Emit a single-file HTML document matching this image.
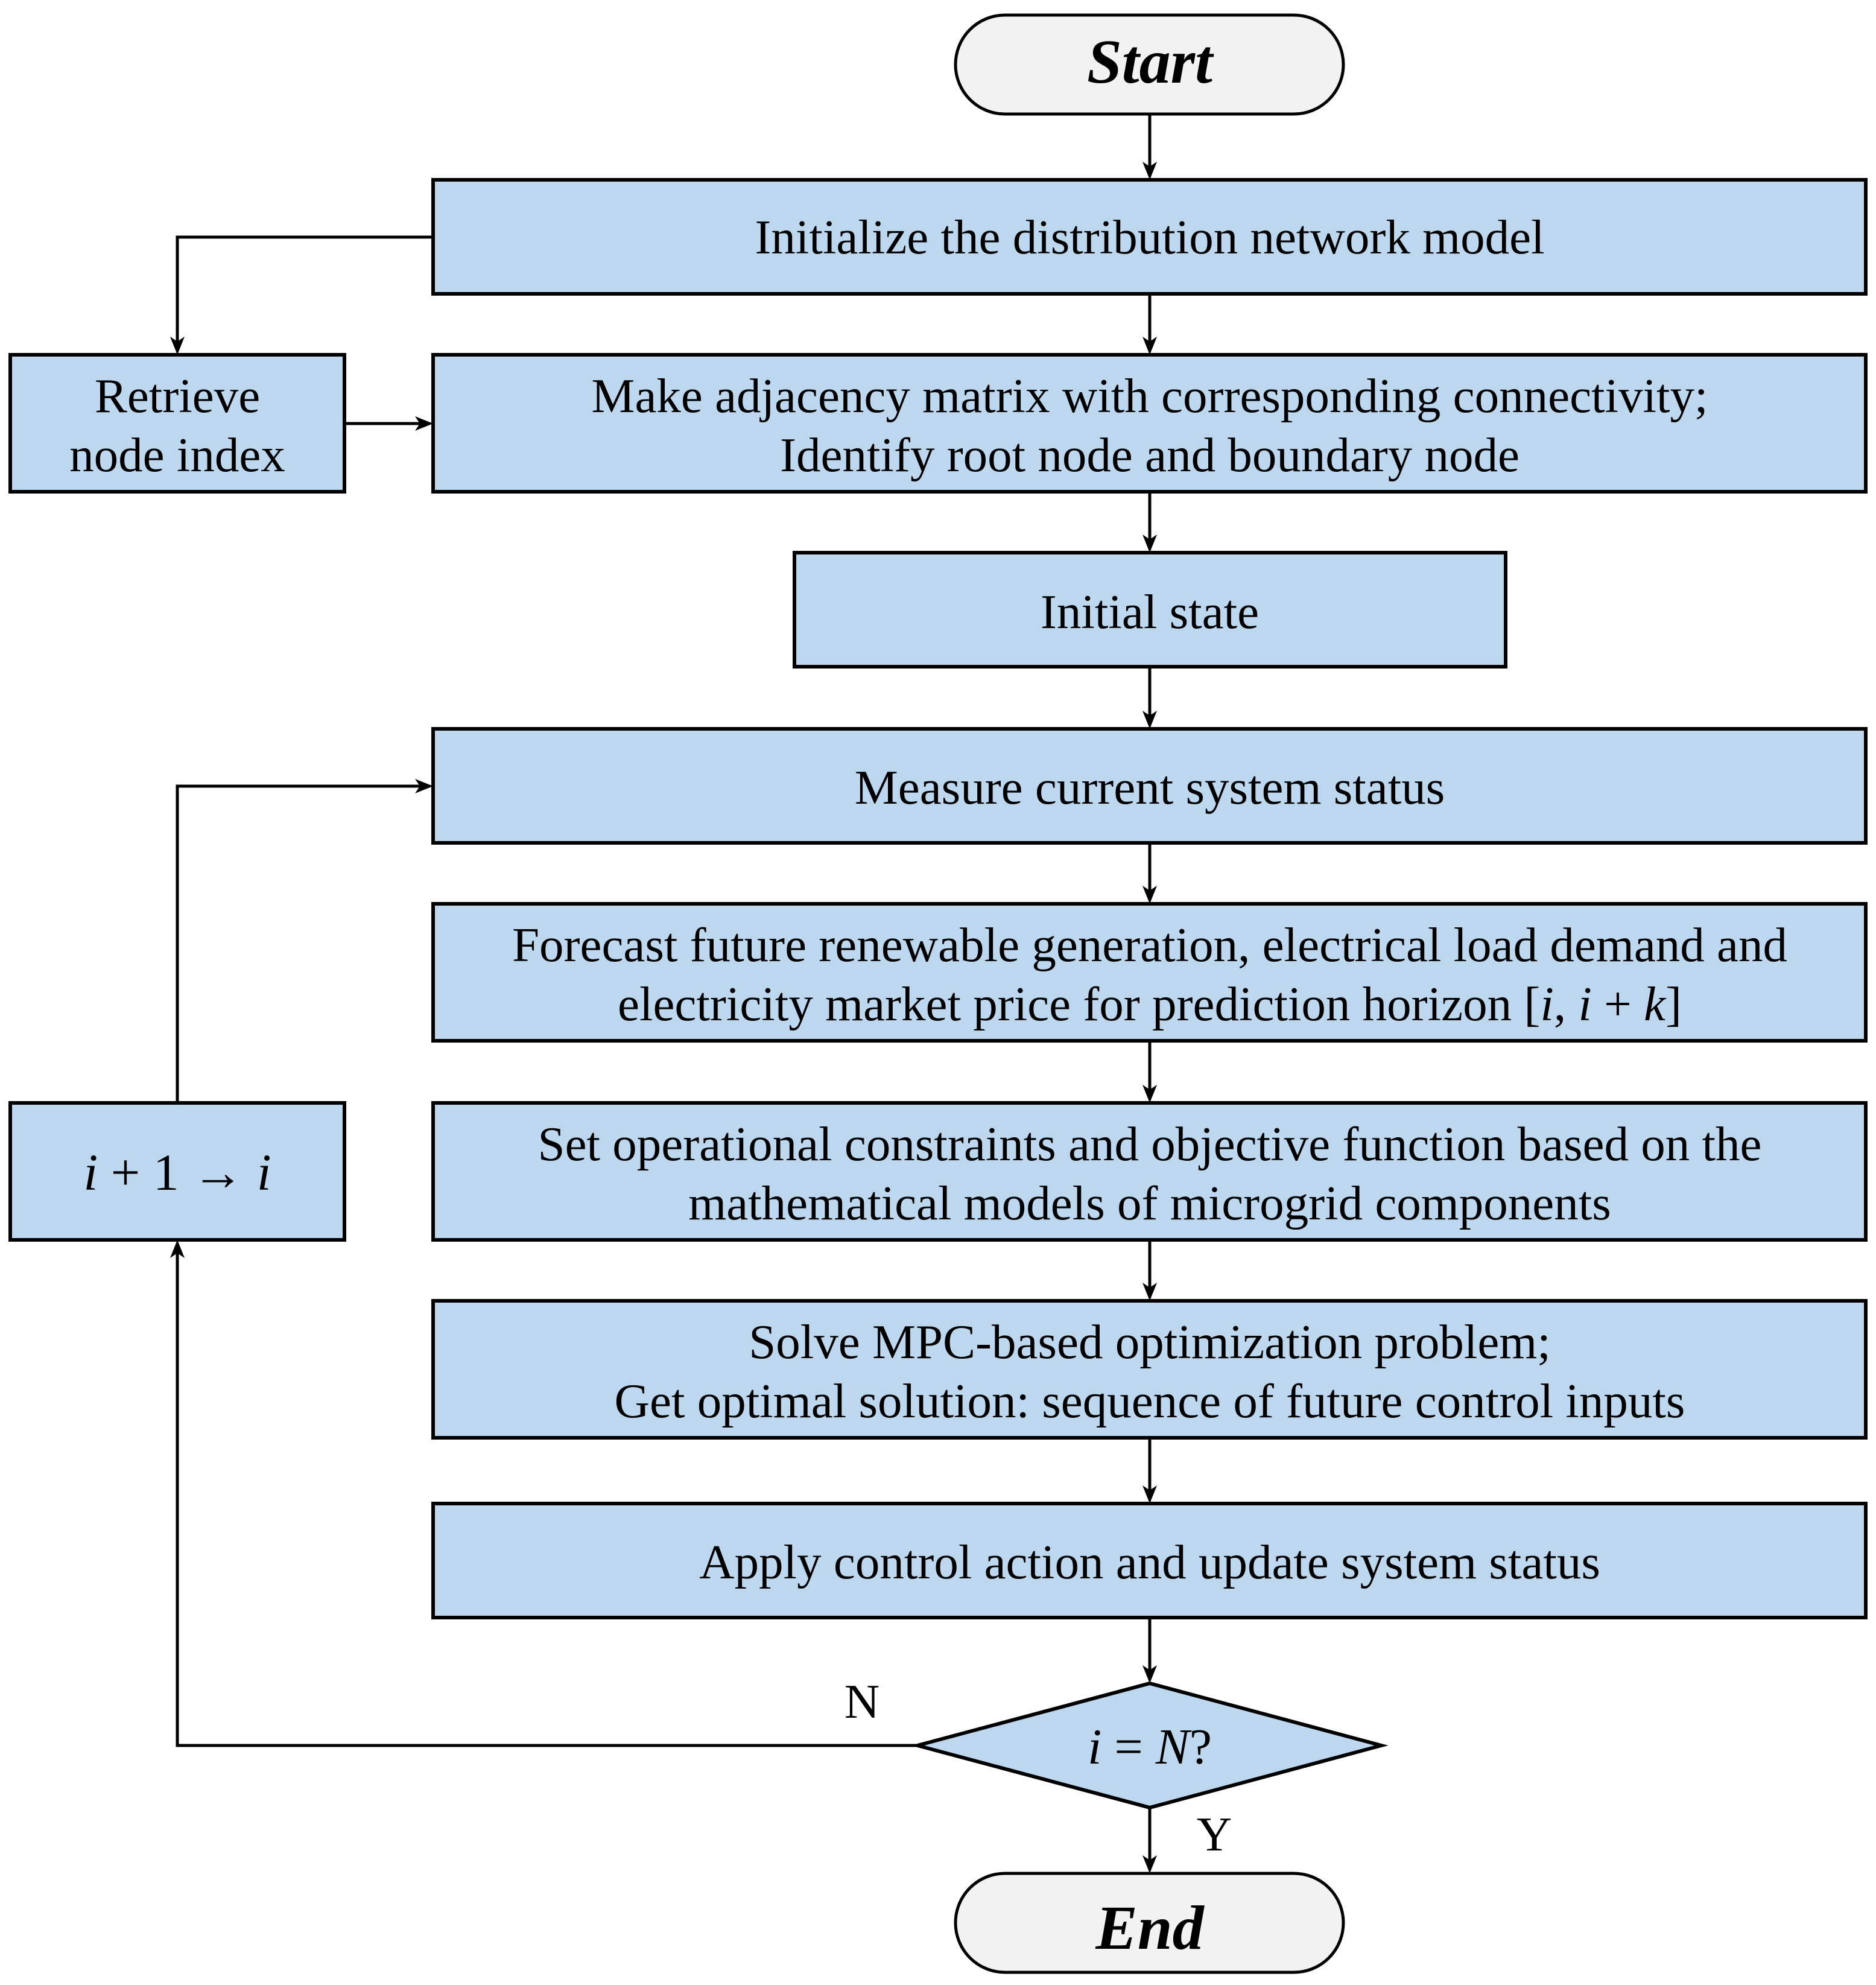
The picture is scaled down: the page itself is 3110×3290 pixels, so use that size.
<!DOCTYPE html>
<html><head><meta charset="utf-8"><style>html,body{margin:0;padding:0;background:#fff}</style></head>
<body>
<svg width="3110" height="3285" viewBox="0 0 3110 3285" xmlns="http://www.w3.org/2000/svg" font-family="Liberation Serif, serif">
<g stroke="#000" stroke-width="5" fill="none">
<line x1="1906" y1="189" x2="1906" y2="280"/>
<line x1="1906" y1="487" x2="1906" y2="570"/>
<line x1="1906" y1="815" x2="1906" y2="898"/>
<line x1="1906" y1="1105" x2="1906" y2="1190"/>
<line x1="1906" y1="1397" x2="1906" y2="1480"/>
<line x1="1906" y1="1725" x2="1906" y2="1810"/>
<line x1="1906" y1="2055" x2="1906" y2="2138"/>
<line x1="1906" y1="2383" x2="1906" y2="2474"/>
<line x1="1906" y1="2681" x2="1906" y2="2772"/>
<line x1="1906" y1="2996" x2="1906" y2="3087"/>
<polyline points="718,393 294,393 294,570"/>
<line x1="571" y1="702" x2="700" y2="702"/>
<polyline points="1521,2893 294,2893 294,2073"/>
<polyline points="294,1828 294,1303 700,1303"/>
</g>
<g fill="#000">
<polygon points="1906,298 1894,268 1906,276 1918,268"/>
<polygon points="1906,588 1894,558 1906,566 1918,558"/>
<polygon points="1906,916 1894,886 1906,894 1918,886"/>
<polygon points="1906,1208 1894,1178 1906,1186 1918,1178"/>
<polygon points="1906,1498 1894,1468 1906,1476 1918,1468"/>
<polygon points="1906,1828 1894,1798 1906,1806 1918,1798"/>
<polygon points="1906,2156 1894,2126 1906,2134 1918,2126"/>
<polygon points="1906,2492 1894,2462 1906,2470 1918,2462"/>
<polygon points="1906,2790 1894,2760 1906,2768 1918,2760"/>
<polygon points="1906,3105 1894,3075 1906,3083 1918,3075"/>
<polygon points="294,588 282,558 294,566 306,558"/>
<polygon points="718,702 688,690 696,702 688,714"/>
<polygon points="718,1303 688,1291 696,1303 688,1315"/>
<polygon points="294,2055 282,2085 294,2077 306,2085"/>
</g>
<g stroke="#000" stroke-width="6" fill="#BDD7EE">
<rect x="718" y="298" width="2375" height="189"/>
<rect x="17" y="588" width="554" height="227"/>
<rect x="718" y="588" width="2375" height="227"/>
<rect x="1317" y="916" width="1179" height="189"/>
<rect x="718" y="1208" width="2375" height="189"/>
<rect x="718" y="1498" width="2375" height="227"/>
<rect x="718" y="1828" width="2375" height="227"/>
<rect x="718" y="2156" width="2375" height="227"/>
<rect x="718" y="2492" width="2375" height="189"/>
<rect x="17" y="1828" width="554" height="227"/>
<polygon points="1906,2790 2290,2893 1906,2996 1521,2893"/>
</g>
<g stroke="#000" stroke-width="5" fill="#F2F2F2">
<rect x="1584" y="25" width="643" height="164" rx="82" ry="82"/>
<rect x="1584" y="3105" width="643" height="164" rx="82" ry="82"/>
</g>
<g font-size="81" text-anchor="middle" fill="#000">
<text x="1906" y="137" font-size="104" font-weight="bold" font-style="italic">Start</text>
<text x="1906" y="3230" font-size="104" font-weight="bold" font-style="italic">End</text>
<text x="1906" y="420">Initialize the distribution network model</text>
<text x="1906" y="683">Make adjacency matrix with corresponding connectivity;</text>
<text x="1906" y="781">Identify root node and boundary node</text>
<text x="294" y="683">Retrieve</text>
<text x="294" y="781">node index</text>
<text x="1906" y="1041">Initial state</text>
<text x="1906" y="1332">Measure current system status</text>
<text x="1906" y="1593">Forecast future renewable generation, electrical load demand and</text>
<text x="1906" y="1691">electricity market price for prediction horizon [<tspan font-style="italic">i</tspan>, <tspan font-style="italic">i</tspan> + <tspan font-style="italic">k</tspan>]</text>
<text x="1906" y="1923">Set operational constraints and objective function based on the</text>
<text x="1906" y="2021">mathematical models of microgrid components</text>
<text x="1906" y="2251">Solve MPC-based optimization problem;</text>
<text x="1906" y="2349">Get optimal solution: sequence of future control inputs</text>
<text x="1906" y="2616">Apply control action and update system status</text>
<text x="294" y="1972" font-size="86"><tspan font-style="italic">i</tspan> + 1 → <tspan font-style="italic">i</tspan></text>
<text x="1906" y="2923" font-size="84"><tspan font-style="italic">i</tspan> = <tspan font-style="italic">N</tspan>?</text>
<text x="1429" y="2847">N</text>
<text x="2013" y="3067">Y</text>
</g>
</svg>
</body></html>
